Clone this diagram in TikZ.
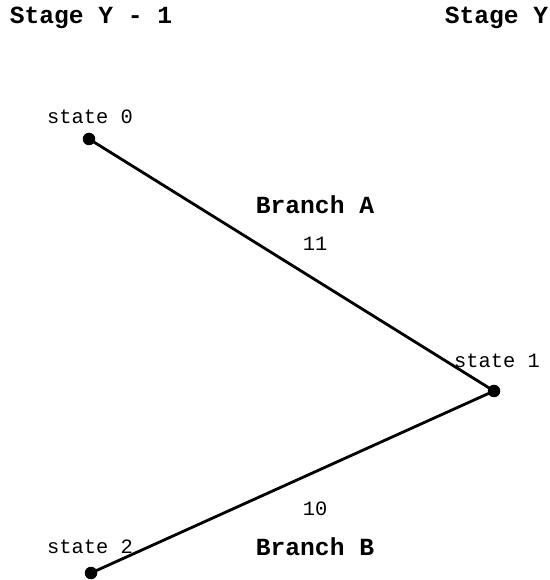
\documentclass[tikz,border=0pt]{standalone}
\usepackage{fontspec}
\setmonofont{Liberation Mono}
\usepackage{tikz}

\tikzset{
  dot/.style={circle, fill=black, inner sep=0pt, minimum size=0.25cm},
  statelabel/.style={font=\fontsize{11.6}{13}\selectfont\ttfamily},
  stagelabel/.style={font=\fontsize{14}{16}\selectfont\ttfamily\bfseries},
  branch/.style={line width=1.6pt}
}

\begin{document}
\begin{tikzpicture}
			%%%%% START %%%%%
			\useasboundingbox (0, 0) rectangle (11, 11.6);
			
			\node[stagelabel] (stageprev) at (1.82, 11.24) {Stage Y - 1};
			\node[stagelabel] (stagecur) at (9.93, 11.24) {Stage Y};
			
			\node[dot] (s0) at (1.78, 8.82) {};
			\node[dot] (s1) at (9.88, 3.78) {};
			\node[dot] (s2) at (1.82, 0.14) {};
			
			\node[statelabel] (l0) at (1.8, 9.26) {state 0};
			\node[statelabel] (l1) at (9.94, 4.38) {state 1};
			\node[statelabel] (l2) at (1.8, 0.66) {state 2};
			
			\draw[branch] (s0.center) -- (s1.center);
			\draw[branch] (s2.center) -- (s1.center);
			
			\node[stagelabel] (brA) at (6.3, 7.5) {Branch A};
			\node[statelabel] (wA) at (6.3, 6.72) {11};
			\node[statelabel] (wB) at (6.3, 1.42) {10};
			\node[stagelabel] (brB) at (6.3, 0.66) {Branch B};
			
			%%%%% END %%%%%
		\end{tikzpicture}
\end{document}
